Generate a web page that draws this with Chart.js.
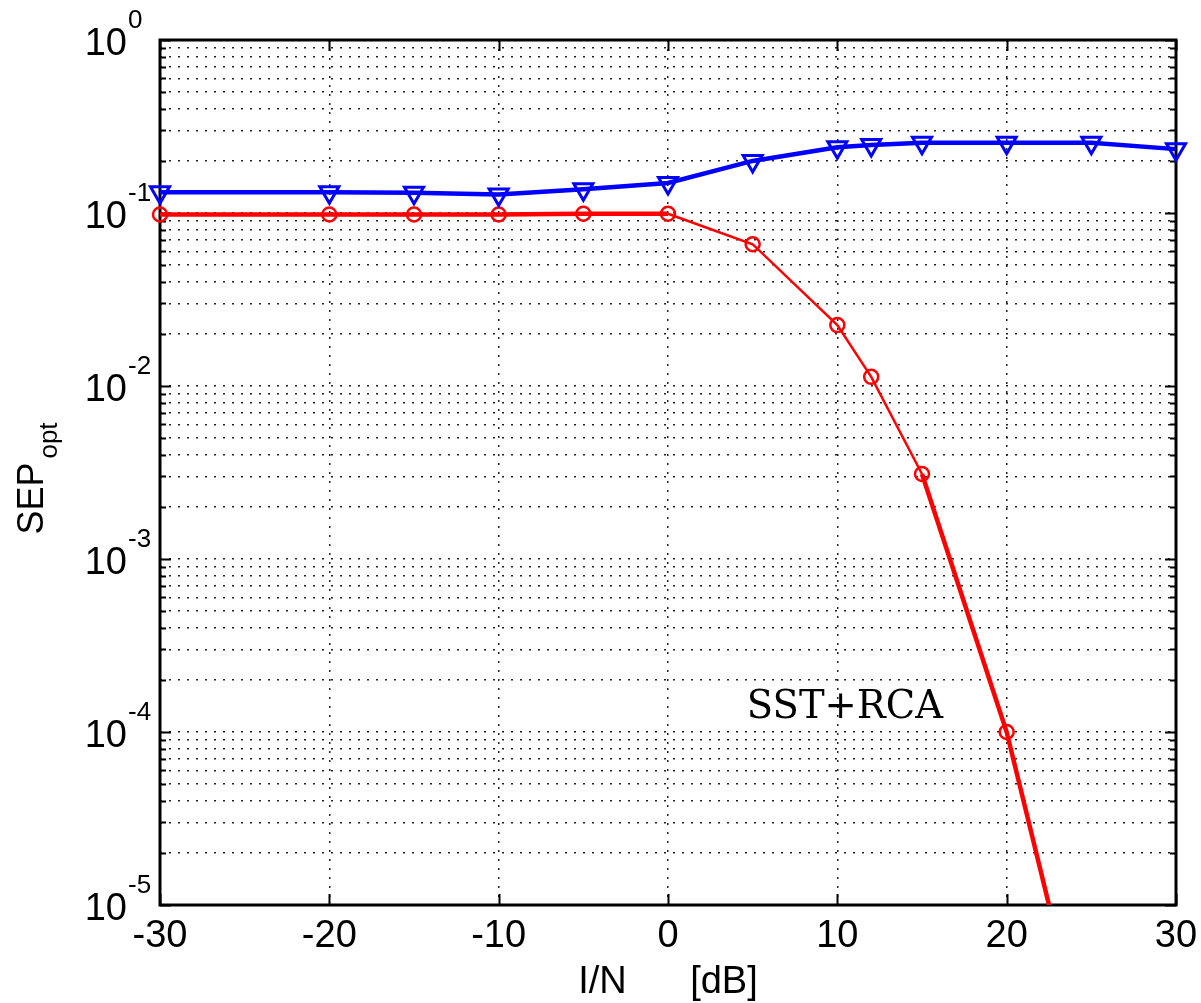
<!DOCTYPE html>
<html>
<head>
<meta charset="utf-8">
<script src="https://cdn.jsdelivr.net/npm/chart.js@4.4.0/dist/chart.umd.min.js"></script>
<style>
  body { margin: 0; background: #fff; }
  #wrap { width: 1201px; height: 1003px; }
</style>
</head>
<body>
<div id="wrap"><canvas id="myChart" width="1201" height="1003"></canvas></div>
<script>
// values (I/N in dB, SEP on a log scale)
var xRed = [-30, -20, -15, -10, -5, 0, 5, 10, 12, 15, 20, 25];
var sepRed = [0.098, 0.098, 0.098, 0.098, 0.099, 0.099, 0.066, 0.0225, 0.0113, 0.0031, 0.0001, 0.000001];

var xBlue = [-30, -20, -15, -10, -5, 0, 5, 10, 12, 15, 20, 25, 30];
var sepBlue = [0.132, 0.132, 0.131, 0.128, 0.137, 0.149, 0.2, 0.24, 0.247, 0.255, 0.255, 0.255, 0.234];

var xTicks = [-30, -20, -10, 0, 10, 20, 30];
var yDecades = [1, 0.1, 0.01, 0.001, 0.0001, 0.00001];
var yExponents = ['0', '-1', '-2', '-3', '-4', '-5'];

var curveLabel = { text: 'SST+RCA', x: 10.45, y: 0.00012 };

var sans = "'Liberation Sans', Arial, sans-serif";

// grid at 1..9 x each decade, like matlab's log grid
var yGrid = [];
yDecades.slice(1).forEach(function (d) {
  for (var m = 1; m <= 9; m++) yGrid.push(m * d);
});
yGrid.push(1);

function pts(xs, ys) {
  return xs.map(function (x, i) { return { x: x, y: ys[i] }; });
}

var frame = {
  id: 'frame',
  beforeDatasetsDraw: function (chart) {
    var ctx = chart.ctx, a = chart.chartArea;
    var xs = chart.scales.x, ys = chart.scales.y;
    ctx.save();
    ctx.strokeStyle = '#000';
    ctx.lineWidth = 3;
    ctx.strokeRect(a.left, a.top, a.right - a.left, a.bottom - a.top);
    ctx.lineWidth = 2;
    ctx.beginPath();
    xTicks.forEach(function (v) {
      var px = Math.round(xs.getPixelForValue(v)) + 0.5;
      ctx.moveTo(px, a.bottom); ctx.lineTo(px, a.bottom - 11);
      ctx.moveTo(px, a.top); ctx.lineTo(px, a.top + 11);
    });
    yGrid.forEach(function (v) {
      var py = Math.round(ys.getPixelForValue(v)) + 0.5;
      var len = yDecades.indexOf(v) >= 0 ? 11 : 6;
      ctx.moveTo(a.left, py); ctx.lineTo(a.left + len, py);
      ctx.moveTo(a.right, py); ctx.lineTo(a.right - len, py);
    });
    ctx.stroke();
    ctx.restore();
  },
  afterDraw: function (chart) {
    var ctx = chart.ctx, a = chart.chartArea;
    var xs = chart.scales.x, ys = chart.scales.y;
    ctx.save();
    ctx.fillStyle = '#000';

    // y tick labels 10^k
    yDecades.forEach(function (v, i) {
      var py = ys.getPixelForValue(v);
      ctx.font = '38px ' + sans;
      ctx.textAlign = 'right';
      ctx.textBaseline = 'alphabetic';
      ctx.fillText('10', 127, py + 15);
      ctx.font = '26px ' + sans;
      ctx.textAlign = 'left';
      ctx.fillText(yExponents[i], 128, py - 12);
    });

    // x title
    ctx.font = '38px ' + sans;
    ctx.textAlign = 'center';
    ctx.fillText('I/N      [dB]', (a.left + a.right) / 2, 993);

    // y title with subscript
    ctx.translate(43, (a.top + a.bottom) / 2 + 6);
    ctx.rotate(-Math.PI / 2);
    ctx.font = '36px ' + sans;
    var w1 = ctx.measureText('SEP').width;
    ctx.font = '26px ' + sans;
    var w2 = ctx.measureText('opt').width;
    var x0 = -(w1 + 4 + w2) / 2;
    ctx.textAlign = 'left';
    ctx.font = '36px ' + sans;
    ctx.fillText('SEP', x0, 0);
    ctx.font = '26px ' + sans;
    ctx.fillText('opt', x0 + w1 + 4, 14);
    ctx.setTransform(1, 0, 0, 1, 0, 0);

    // curve annotation
    ctx.font = "38.5px 'DejaVu Serif', serif";
    ctx.textAlign = 'center';
    ctx.fillText(curveLabel.text, xs.getPixelForValue(curveLabel.x), ys.getPixelForValue(curveLabel.y));
    ctx.restore();
  }
};

var ctx = document.getElementById('myChart');
var myChart = new Chart(ctx, {
  type: 'line',
  data: {
    datasets: [
      {
        label: 'blue',
        data: pts(xBlue, sepBlue),
        borderColor: '#0000ff',
        borderWidth: 4.5,
        pointStyle: 'triangle',
        rotation: 180,
        pointRadius: 11,
        pointBorderWidth: 3,
        pointBorderColor: '#0000ff',
        pointBackgroundColor: 'rgba(0,0,0,0)',
        clip: false
      },
      {
        label: 'SST+RCA',
        data: pts(xRed, sepRed),
        borderColor: '#ff0000',
        borderWidth: 4.5,
        segment: {
          borderWidth: function (c) {
            return (c.p0.parsed.x >= 0 && c.p1.parsed.x <= 15) ? 2.5 : 4.5;
          }
        },
        pointStyle: 'circle',
        pointRadius: 7,
        pointBorderWidth: 2.5,
        pointBorderColor: '#ff0000',
        pointBackgroundColor: 'rgba(0,0,0,0)',
        clip: { left: 12, right: 12, top: 12, bottom: 0 }
      }
    ]
  },
  options: {
    responsive: false,
    animation: false,
    events: [],
    layout: { padding: { left: 0, right: 25, top: 40, bottom: 0 } },
    plugins: {
      legend: { display: false },
      tooltip: { enabled: false }
    },
    scales: {
      x: {
        type: 'linear',
        min: -30,
        max: 30,
        afterBuildTicks: function (s) {
          s.ticks = xTicks.map(function (v) { return { value: v }; });
        },
        afterFit: function (s) {
          s.height = 98;
          s.paddingLeft = 0;
          s.paddingRight = 0;
        },
        ticks: {
          color: '#000',
          padding: 9,
          autoSkip: false,
          maxRotation: 0,
          font: { family: sans, size: 38 }
        },
        grid: { color: '#222', lineWidth: 1.5, drawTicks: false },
        border: { display: false, dash: [2, 7] }
      },
      y: {
        type: 'logarithmic',
        min: 0.00001,
        max: 1,
        afterBuildTicks: function (s) {
          s.ticks = yGrid.map(function (v) { return { value: v }; });
        },
        afterFit: function (s) { s.width = 160; },
        ticks: { display: false, autoSkip: false },
        grid: { color: '#222', lineWidth: 1.5, drawTicks: false },
        border: { display: false, dash: [2, 7] }
      }
    }
  },
  plugins: [frame]
});
</script>
</body>
</html>
